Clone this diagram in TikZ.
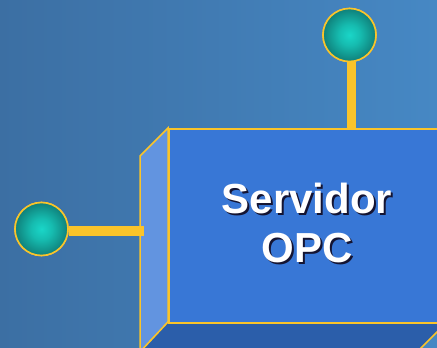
\documentclass[tikz,border=0pt]{standalone}
\usepackage{fontspec}
\setmainfont{Liberation Sans}
\usetikzlibrary{calc}
\definecolor{bgleft}{RGB}{60,111,163}
\definecolor{bgright}{RGB}{70,136,196}
\definecolor{edgeyellow}{RGB}{250,196,42}
\definecolor{frontblue}{RGB}{56,119,214}
\definecolor{sideblue}{RGB}{98,148,224}
\definecolor{bottomblue}{RGB}{43,94,170}
\definecolor{shadowtxt}{RGB}{20,20,50}
\definecolor{ballA}{RGB}{26,214,200}
\definecolor{ballB}{RGB}{22,188,176}
\definecolor{ballC}{RGB}{15,128,122}
\definecolor{ballD}{RGB}{10,78,74}
\definecolor{ballE}{RGB}{8,60,58}
% glossy teal sphere
\pgfdeclareradialshading{tealball}{\pgfpoint{0bp}{0bp}}{%
  color(0bp)=(ballA);
  color(10bp)=(ballB);
  color(25bp)=(ballC);
  color(42bp)=(ballD);
  color(50bp)=(ballE)}
\tikzset{
  edge/.style={draw=edgeyellow, line width=1.5pt, line join=miter},
  stem/.style={draw=edgeyellow, line width=9.5pt},
  ball/.style={circle, minimum size=53pt, inner sep=0pt, draw=edgeyellow,
    line width=1.6pt, shading=tealball},
  label/.style={font=\bfseries\fontsize{42}{49}\selectfont, align=center}
}
\begin{document}
\begin{tikzpicture}[x=1pt,y=-1pt]
  % page and background
  \useasboundingbox (0,0) rectangle (437,348);
  \clip (0,0) rectangle (437,348);
  \shade[left color=bgleft, right color=bgright] (0,0) rectangle (437,348);

  % the box: side and bottom faces
  \path[edge, fill=sideblue] (168,128) -- (140,156) -- (140,352) -- (168,322) -- cycle;
  \path[edge, fill=bottomblue] (168,322) -- (447,322) -- (417,352) -- (140,352) -- cycle;
  % front face
  \node[edge, fill=frontblue, minimum width=279pt, minimum height=194pt,
        inner sep=0pt, anchor=north west] (front) at (168,128) {};

  % connection points
  \node[ball] (topball) at (349.5,35) {};
  \node[ball] (leftball) at (41.5,229) {};
  \coordinate (leftend) at (143.5,231);
  \coordinate (topend) at (351.5,128);

  % stems
  \draw[stem] (topball.south -| topend) -- (topend);
  \draw[stem] (leftball.east |- leftend) -- (leftend);
  \node[ball] at (topball) {};
  \node[ball] at (leftball) {};

  % label with drop shadow
  \node[label, text=shadowtxt] at (309,224.5) {Servidor\\OPC};
  \node[label, text=white] (title) at (307,222.5) {Servidor\\OPC};
\end{tikzpicture}
\end{document}
